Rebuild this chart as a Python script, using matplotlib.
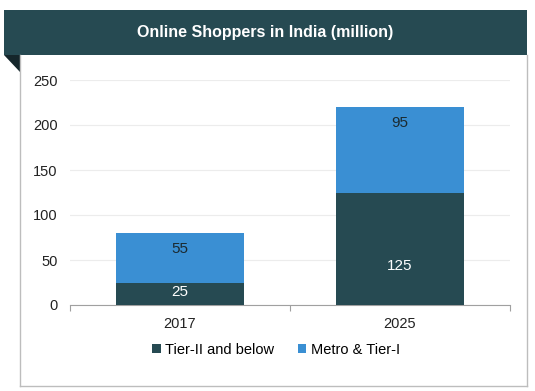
import matplotlib.pyplot as plt
from matplotlib.patches import Rectangle, Polygon
from matplotlib.lines import Line2D

plt.rcParams['font.family'] = ['Liberation Sans', 'DejaVu Sans']

years = ['2017', '2025']
tier2 = [25, 125]
metro = [55, 95]
series_names = ['Tier-II and below', 'Metro & Tier-I']
yticks = [0, 50, 100, 150, 200, 250]

dark = '#264a52'
blue = '#3a8fd3'

fig = plt.figure(figsize=(5.35, 3.91), dpi=100)
W, H = 535, 391

def fx(px):
    return px / W

def fy(py):
    return 1 - py / H

# banner + fold + frame
fig.patches.append(Rectangle((fx(4), fy(55)), fx(523), 45 / H, transform=fig.transFigure,
                             facecolor=dark, edgecolor='none', zorder=0))
fig.patches.append(Polygon([(fx(4), fy(55)), (fx(20), fy(55)), (fx(20), fy(72))],
                           closed=True, transform=fig.transFigure,
                           facecolor='#15262b', edgecolor='none'))
frame_c = '#bdbdbd'
for xs, ys in [([20, 20], [55, 386]), ([20, 527], [386, 386]), ([527, 527], [55, 386])]:
    fig.add_artist(Line2D([fx(v) for v in xs], [fy(v) for v in ys], color=frame_c, lw=1.0,
                          transform=fig.transFigure))
fig.text(fx(265), fy(32), 'Online Shoppers in India (million)', color='white',
         fontsize=11.5, fontweight='bold', ha='center', va='center')

ax = fig.add_axes([fx(70), fy(305), 440 / W, 225 / H])
x = range(len(years))
b1 = ax.bar(x, tier2, width=0.58, color=dark, label=series_names[0], zorder=3)
b2 = ax.bar(x, metro, width=0.58, bottom=tier2, color=blue, label=series_names[1], zorder=3)

# label placement inside each segment (fraction of segment height)
frac_t = [0.58, 0.35]
frac_m = [0.68, 0.81]
for i in x:
    ax.text(i, tier2[i] * frac_t[i], str(tier2[i]), ha='center', va='center',
            color='white', fontsize=11)
    ax.text(i, tier2[i] + metro[i] * frac_m[i], str(metro[i]), ha='center', va='center',
            color='#1b2a30', fontsize=11)

ax.set_xlim(-0.5, 1.5)
ax.set_ylim(0, 250)
ax.set_yticks(yticks)
ax.set_xticks([-0.5, 0.5, 1.5], minor=False)
ax.set_xticklabels(['', '', ''])
ax.set_xticks(list(x), minor=True)
ax.set_xticklabels(years, minor=True)
ax.tick_params(axis='x', which='major', length=4, color='#a0a0a0', direction='out')
ax.tick_params(axis='x', which='minor', length=0, labelsize=10.5, pad=9, labelcolor='#222222')
ax.tick_params(axis='y', length=0, labelsize=10.5, pad=9, labelcolor='#222222')
ax.grid(axis='y', color='#ececec', lw=0.8, zorder=0)
for s in ['top', 'right', 'left']:
    ax.spines[s].set_visible(False)
ax.spines['bottom'].set_color('#a0a0a0')

leg = fig.legend(handles=[b1, b2], loc='center', bbox_to_anchor=(fx(276), fy(350)),
                 ncol=2, frameon=False, fontsize=10.5, handlelength=0.6, handleheight=0.6,
                 handletextpad=0.3, columnspacing=1.6)

fig.savefig('out.png', dpi=100)
